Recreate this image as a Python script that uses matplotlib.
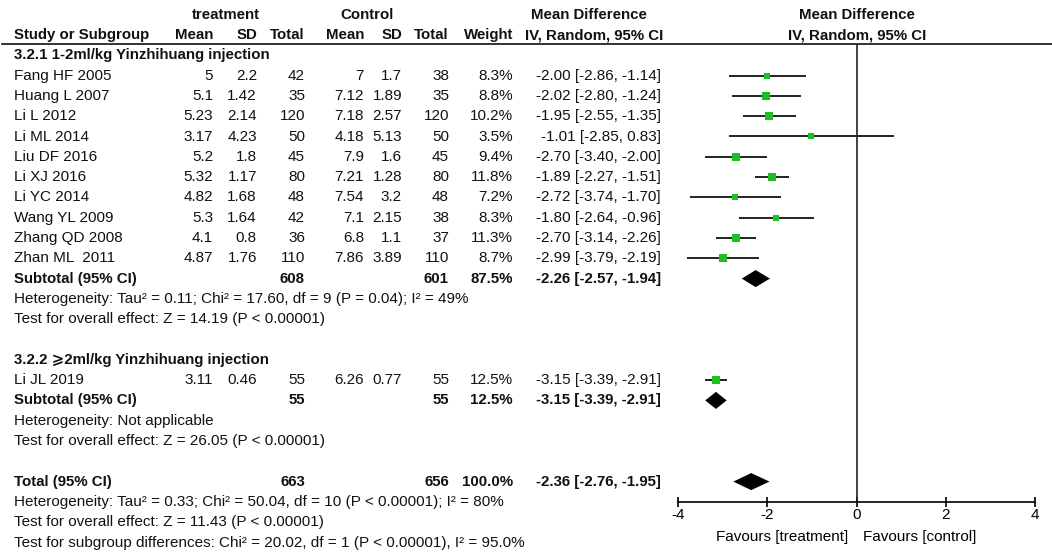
import matplotlib
matplotlib.use('Agg')
import matplotlib.pyplot as plt
from matplotlib.patches import Polygon

plt.rcParams['font.family'] = ['Liberation Sans', 'DejaVu Sans']

# study data
studies = ['Fang HF 2005', 'Huang L 2007', 'Li L 2012', 'Li ML 2014', 'Liu DF 2016',
           'Li XJ 2016', 'Li YC 2014', 'Wang YL 2009', 'Zhang QD 2008', 'Zhan ML  2011']
t_mean = [5, 5.1, 5.23, 3.17, 5.2, 5.32, 4.82, 5.3, 4.1, 4.87]
t_sd = [2.2, 1.42, 2.14, 4.23, 1.8, 1.17, 1.68, 1.64, 0.8, 1.76]
t_n = [42, 35, 120, 50, 45, 80, 48, 42, 36, 110]
c_mean = [7, 7.12, 7.18, 4.18, 7.9, 7.21, 7.54, 7.1, 6.8, 7.86]
c_sd = [1.7, 1.89, 2.57, 5.13, 1.6, 1.28, 3.2, 2.15, 1.1, 3.89]
c_n = [38, 35, 120, 50, 45, 80, 48, 38, 37, 110]
weight = [8.3, 8.8, 10.2, 3.5, 9.4, 11.8, 7.2, 8.3, 11.3, 8.7]
md = [-2.00, -2.02, -1.95, -1.01, -2.70, -1.89, -2.72, -1.80, -2.70, -2.99]
lo = [-2.86, -2.80, -2.55, -2.85, -3.40, -2.27, -3.74, -2.64, -3.14, -3.79]
hi = [-1.14, -1.24, -1.35, 0.83, -2.00, -1.51, -1.70, -0.96, -2.26, -2.19]

sub1 = dict(tn=608, cn=601, w=87.5, md=-2.26, lo=-2.57, hi=-1.94)

study2 = 'Li JL 2019'
s2 = dict(tm=3.11, tsd=0.46, tn=55, cm=6.26, csd=0.77, cn=55, w=12.5, md=-3.15, lo=-3.39, hi=-2.91)
sub2 = dict(tn=55, cn=55, w=12.5, md=-3.15, lo=-3.39, hi=-2.91)

total = dict(tn=663, cn=656, w=100.0, md=-2.36, lo=-2.76, hi=-1.95)

het1 = 'Heterogeneity: Tau\u00b2 = 0.11; Chi\u00b2 = 17.60, df = 9 (P = 0.04); I\u00b2 = 49%'
eff1 = 'Test for overall effect: Z = 14.19 (P < 0.00001)'
het2 = 'Heterogeneity: Not applicable'
eff2 = 'Test for overall effect: Z = 26.05 (P < 0.00001)'
het_t = 'Heterogeneity: Tau\u00b2 = 0.33; Chi\u00b2 = 50.04, df = 10 (P < 0.00001); I\u00b2 = 80%'
eff_t = 'Test for overall effect: Z = 11.43 (P < 0.00001)'
subdiff = 'Test for subgroup differences: Chi\u00b2 = 20.02, df = 1 (P < 0.00001), I\u00b2 = 95.0%'

# layout (pixels / rows)
W, H = 1052, 555
y0, dy = 14.7, 20.3
def row_of(px):
    return (px - y0) / dy

fs = 11
fs_b = 10.8
col_x = dict(tm=213, tsd=257, tn=305, cm=364, csd=402, cn=449, w=513, ci=661)

fig = plt.figure(figsize=(W / 100, H / 100), dpi=100)
ax = fig.add_axes([0, 0, 1, 1])
ax.set_xlim(0, W)
ax.set_ylim(row_of(H), row_of(0))
ax.axis('off')

def txt(x, r, s, ha='left', bold=False):
    ax.text(x, r, s, ha=ha, va='center', fontsize=fs_b if bold else fs,
            fontweight='bold' if bold else 'normal', color='#111111')

def ci_str(d):
    return f"{d['md']:.2f} [{d['lo']:.2f}, {d['hi']:.2f}]"

# headers
txt(226, 0, 'treatment', ha='center', bold=True)
txt(367, 0, 'Control', ha='center', bold=True)
txt(589, 0, 'Mean Difference', ha='center', bold=True)
txt(857, 0, 'Mean Difference', ha='center', bold=True)
txt(14, 1, 'Study or Subgroup', bold=True)
for k, s in [('tm', 'Mean'), ('tsd', 'SD'), ('tn', 'Total'), ('cm', 'Mean'),
             ('csd', 'SD'), ('cn', 'Total'), ('w', 'Weight')]:
    txt(col_x[k], 1, s, ha='right', bold=True)
txt(col_x['ci'] + 2, 1, 'IV, Random, 95% CI', ha='right', bold=True)
txt(857, 1, 'IV, Random, 95% CI', ha='center', bold=True)
ax.plot([2, W], [row_of(43.5)] * 2, color='#111111', lw=1.2)

# subgroup 1
txt(14, 2, '3.2.1 1-2ml/kg Yinzhihuang injection', bold=True)
rows1 = list(range(3, 3 + len(studies)))
for i, r in enumerate(rows1):
    txt(14, r, studies[i])
    txt(col_x['tm'], r, f'{t_mean[i]:g}', ha='right')
    txt(col_x['tsd'], r, f'{t_sd[i]:g}', ha='right')
    txt(col_x['tn'], r, str(t_n[i]), ha='right')
    txt(col_x['cm'], r, f'{c_mean[i]:g}', ha='right')
    txt(col_x['csd'], r, f'{c_sd[i]:g}', ha='right')
    txt(col_x['cn'], r, str(c_n[i]), ha='right')
    txt(col_x['w'], r, f'{weight[i]:.1f}%', ha='right')
    txt(col_x['ci'], r, ci_str(dict(md=md[i], lo=lo[i], hi=hi[i])), ha='right')

def subtotal_row(r, label, d):
    txt(14, r, label, bold=True)
    txt(col_x['tn'], r, str(d['tn']), ha='right', bold=True)
    txt(col_x['cn'], r, str(d['cn']), ha='right', bold=True)
    txt(col_x['w'], r, f"{d['w']:.1f}%", ha='right', bold=True)
    txt(col_x['ci'], r, ci_str(d), ha='right', bold=True)

r_sub1 = rows1[-1] + 1
subtotal_row(r_sub1, 'Subtotal (95% CI)', sub1)
txt(14, r_sub1 + 1, het1)
txt(14, r_sub1 + 2, eff1)

# subgroup 2
r_g2 = r_sub1 + 4
txt(14, r_g2, '3.2.2 \u2a7e2ml/kg Yinzhihuang injection', bold=True)
r_s2 = r_g2 + 1
txt(14, r_s2, study2)
txt(col_x['tm'], r_s2, f"{s2['tm']:g}", ha='right')
txt(col_x['tsd'], r_s2, f"{s2['tsd']:g}", ha='right')
txt(col_x['tn'], r_s2, str(s2['tn']), ha='right')
txt(col_x['cm'], r_s2, f"{s2['cm']:g}", ha='right')
txt(col_x['csd'], r_s2, f"{s2['csd']:g}", ha='right')
txt(col_x['cn'], r_s2, str(s2['cn']), ha='right')
txt(col_x['w'], r_s2, f"{s2['w']:.1f}%", ha='right')
txt(col_x['ci'], r_s2, ci_str(s2), ha='right')
r_sub2 = r_s2 + 1
subtotal_row(r_sub2, 'Subtotal (95% CI)', sub2)
txt(14, r_sub2 + 1, het2)
txt(14, r_sub2 + 2, eff2)

# total
r_tot = r_sub2 + 4
subtotal_row(r_tot, 'Total (95% CI)', total)
txt(14, r_tot + 1, het_t)
txt(14, r_tot + 2, eff_t)
txt(14, r_tot + 3, subdiff)

# forest panel
ax_top, ax_bot = 43.5, 502
fx = fig.add_axes([678 / W, 1 - ax_bot / H, (1035 - 678) / W, (ax_bot - ax_top) / H])
fx.set_xlim(-4, 4)
fx.set_ylim(row_of(ax_bot), row_of(ax_top))
fx.patch.set_alpha(0)
for s in ['left', 'right', 'top']:
    fx.spines[s].set_visible(False)
fx.spines['bottom'].set_linewidth(1.2)
fx.set_yticks([])
fx.set_xticks([-4, -2, 0, 2, 4])
fx.set_xticklabels(['-4', '-2', '0', '2', '4'], fontsize=11)
fx.tick_params(axis='x', direction='inout', length=7, width=1.2, pad=1)
fx.axvline(0, color='#222222', lw=1.2)

green = '#1fbf1f'
def study_mark(r, m, l, h, w):
    fx.plot([l, h], [r, r], color='#222222', lw=1.4, solid_capstyle='butt')
    side = 1.5 + 1.9 * w ** 0.5
    fx.plot(m, r, marker='s', ms=side * 0.72, color=green, mec=green, mew=0)

for i, r in enumerate(rows1):
    study_mark(r, md[i], lo[i], hi[i], weight[i])
study_mark(r_s2, s2['md'], s2['lo'], s2['hi'], s2['w'])

def diamond(r, d, h=0.42):
    fx.add_patch(Polygon([(d['lo'], r), (d['md'], r - h), (d['hi'], r), (d['md'], r + h)],
                         closed=True, color='black', lw=0))

diamond(r_sub1, sub1)
diamond(r_sub2, sub2)
diamond(r_tot, total)

fav_r = row_of(537)
fx.text(-0.18, fav_r, 'Favours [treatment]', ha='right', va='center', fontsize=fs, clip_on=False)
fx.text(0.14, fav_r, 'Favours [control]', ha='left', va='center', fontsize=fs, clip_on=False)

fig.savefig('out.png', dpi=100)
